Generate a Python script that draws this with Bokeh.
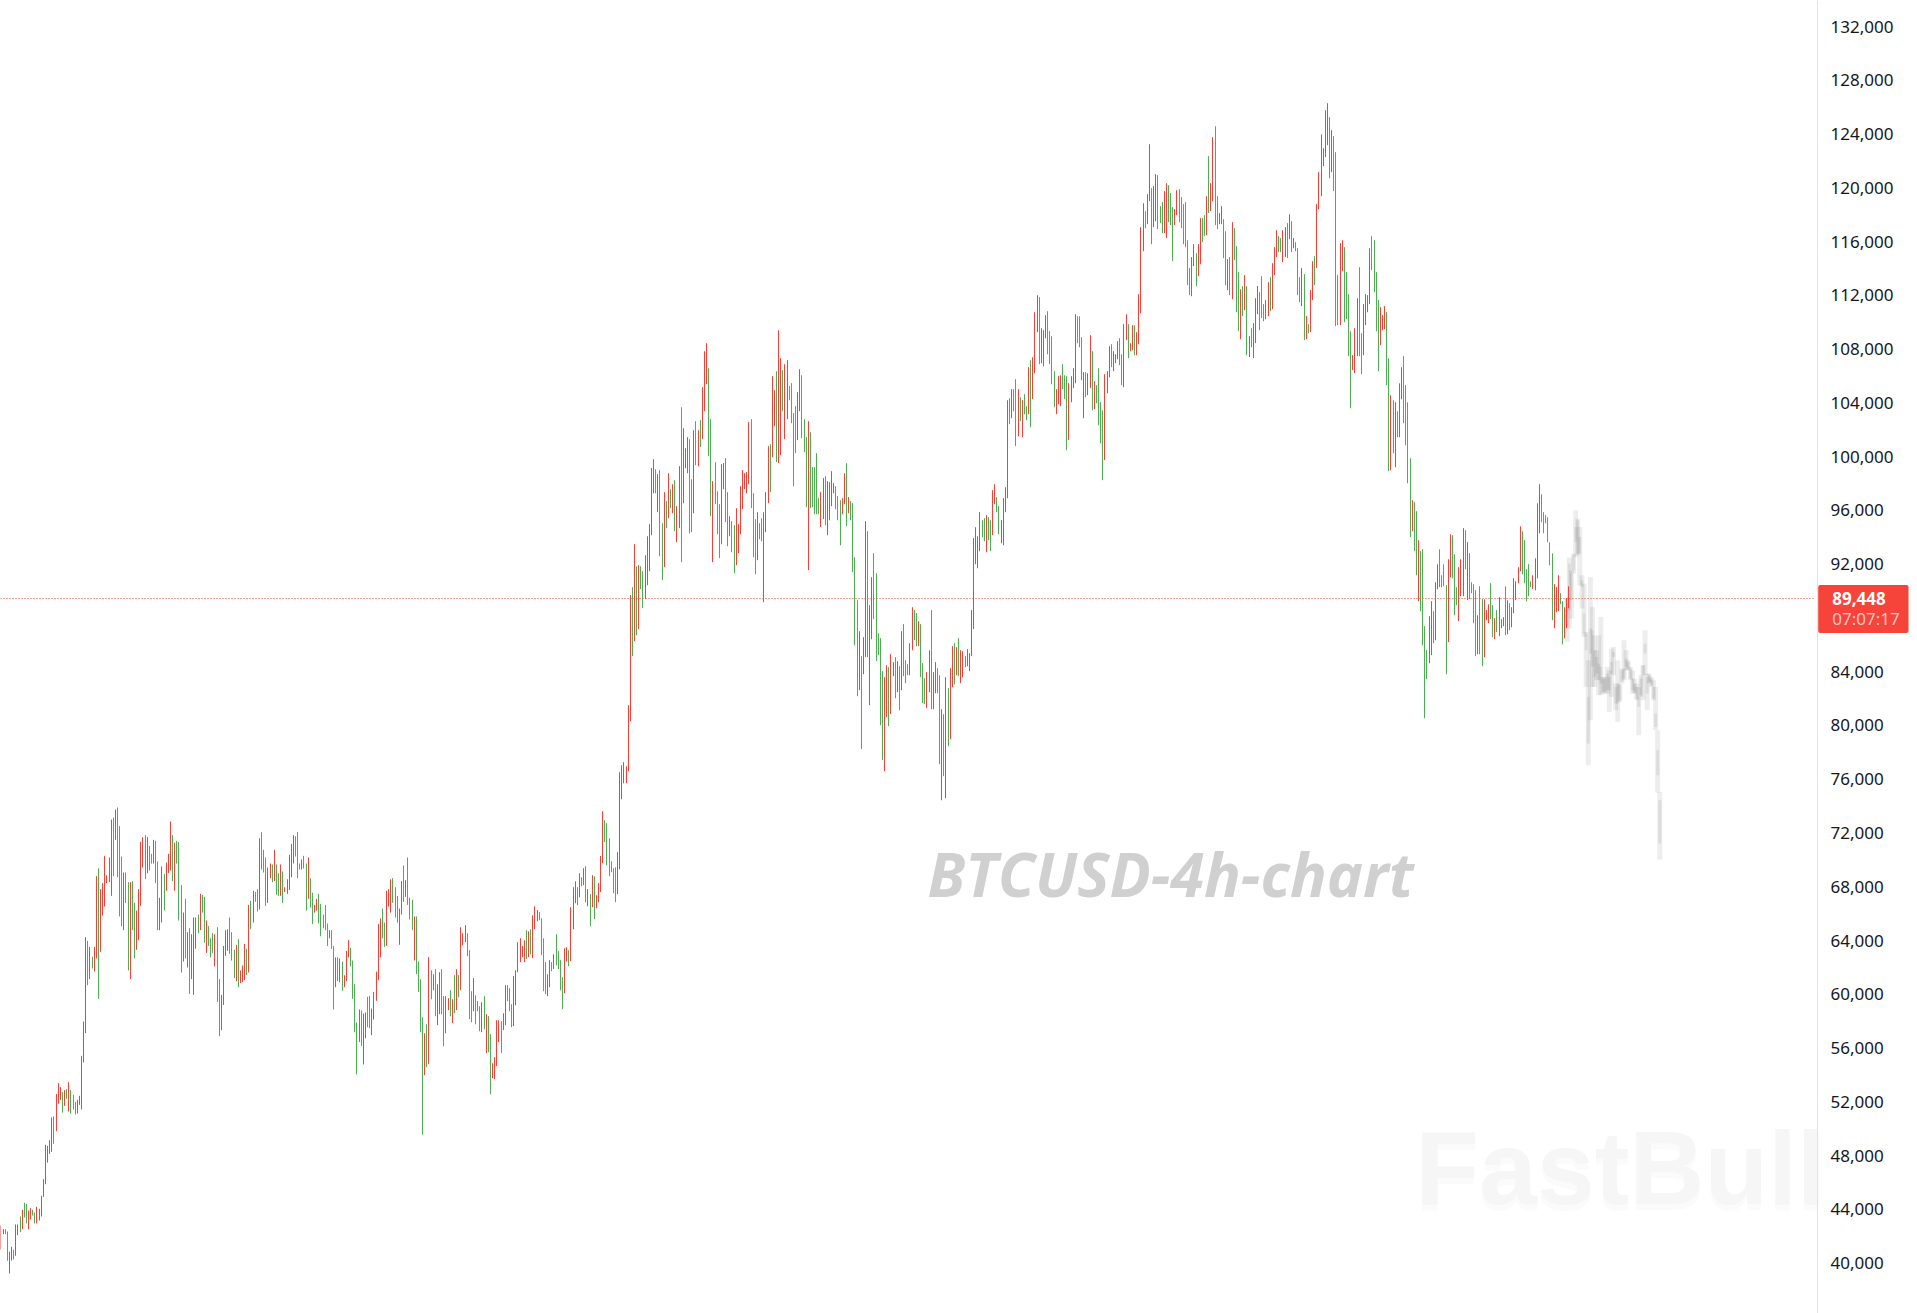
import numpy as np
from bokeh.embed import file_html
from bokeh.models import (BoxAnnotation, ColumnDataSource, FixedTicker, Label, LinearAxis,
                          NumeralTickFormatter, Range1d)
from bokeh.plotting import figure
from bokeh.resources import INLINE

# 4h bars, prices in thousands of USD
high_a = [42.80,42.52,42.52,42.35,40.84,41.21,40.99,42.87,42.87,43.47,43.96,44.48,44.41,43.91,44.09,43.96,43.76,44.19,44.04,45.00,
          46.24,48.80,48.72,49.15,50.83,50.91,52.59,53.39,53.09,52.72,52.87,52.94,53.46,52.87,52.52,52.00,52.15,52.44,55.42,57.97,
          64.25,63.98,63.53,62.79,63.53,68.79,69.36,67.82,68.27,70.30,68.86,70.18,73.00,73.15,73.75,73.90,72.51,70.25,69.06,69.06,
          68.34,68.34,68.42,66.80,66.23,67.82,71.34,71.69,71.84,71.69,71.04,70.45,71.49,71.42,69.88,67.18,69.51,68.94,69.80,70.45,
          72.85,71.84,71.27,71.42,71.34,68.12,66.08,67.10,64.62,64.92,64.47,65.71,65.71,65.93,67.47,67.40,67.25,65.49,65.07,64.17,
          64.55,64.47,64.99,61.13,59.96,63.60,64.77,64.84,65.71,64.62,63.31,63.68,64.10,61.77,62.14,63.75,63.38,66.65,66.95,67.70,
          67.62,67.82,71.61,72.06,70.75,70.18,69.43,69.73,69.66,70.75,69.66,69.01,69.66,69.13,67.97,68.56,70.37,71.19,71.84,71.76,
          72.06,69.73,70.03,70.30,69.73,70.18,68.64,67.55,66.65,67.10,67.47,66.73,65.93,66.65,65.27,64.77,64.77,63.60,62.74,62.74,
          62.66,62.44,61.42,63.23,64.03,63.46,62.51,60.75,57.90,58.87,58.79,58.57,58.64,59.81,59.89,58.94,60.18,61.69,65.22,65.64,
          66.38,65.34,67.70,67.82,68.56,68.64,67.97,67.32,66.38,68.42,69.58,68.49,70.18,67.18,67.03,65.79,65.79,62.44]
low_a = [41.01,42.15,42.15,40.17,39.23,40.19,40.27,40.54,42.08,42.30,42.52,43.39,42.95,42.52,43.24,43.54,42.95,42.95,43.17,43.47,
         44.93,45.87,47.48,48.13,48.28,48.87,49.82,51.85,52.15,51.20,51.70,52.22,51.28,51.13,51.43,51.06,51.13,51.77,51.43,54.93,
         57.11,60.68,61.13,61.92,61.69,62.66,59.66,63.16,65.86,66.53,68.27,68.34,67.32,68.79,71.49,68.71,65.79,65.07,64.77,66.80,
         61.77,61.13,64.77,62.66,63.31,64.03,66.58,69.43,68.56,69.01,69.21,69.73,69.73,68.27,64.77,64.77,65.34,66.23,67.70,69.01,
         69.21,68.42,67.70,69.73,65.49,61.62,62.44,62.66,61.99,60.03,61.13,59.96,63.38,64.55,64.77,66.08,63.83,63.08,63.60,62.74,
         63.08,62.07,59.44,56.88,57.33,59.21,62.86,63.23,63.01,62.51,61.20,60.98,60.53,60.83,60.90,61.05,61.42,61.62,64.84,65.34,
         66.88,66.16,66.31,69.28,69.06,66.58,66.80,68.64,68.34,68.42,67.40,67.32,67.32,66.80,67.60,67.47,67.77,68.71,69.73,70.25,
         68.64,69.28,69.28,69.36,66.23,67.10,66.46,65.22,66.08,66.23,65.27,64.32,64.92,64.77,63.60,64.17,63.38,58.87,60.53,60.98,
         60.90,60.26,60.53,60.98,62.74,62.07,59.66,57.18,54.03,56.46,56.16,54.78,56.73,57.55,57.48,56.96,58.12,59.51,61.05,62.74,
         64.17,63.53,63.60,66.53,66.08,66.80,65.71,65.34,63.68,65.93,66.88,67.25,66.65,65.56,64.77,62.51,61.50,60.18]
side_a = ("RRGGRRGRRG" "RGGRRGGRRR" "RRRRRGRRRG" "RGRGGGRRRR" "RGRGRRGRRR" "RRRGRGGGRG" "GRGGRRRRGR" "GGRGGRRGRR"
          "RGRGGGRGRG" "RRRGRGGRGG" "GRGGRRRRGG" "GRGRRRGRGR" "GGRGGGRRGR" "GGRGRRRRRG" "GGRGGRGGRR" "GGGGGRGGRG"
          "RGRRRGGGGR" "GRRGGRRRRR" "GGRRRGGGRR" "GRGGGRGG")

high_b = [61.12,58.30,57.10,57.77,62.76,61.79,61.49,61.87,60.75,61.64,61.87,59.86,59.86,59.71,60.30,59.63,61.42,61.87,61.42,64.99,
          64.54,65.14,64.54,63.28,60.23,61.20,59.93,59.49,59.11,59.41,59.86,58.52,58.37,57.03,54.87,55.32,58.07,58.07,58.00,58.59,
          60.68,60.68,60.45,59.26,61.35,61.79,63.88,64.17,63.58,64.02,64.77,64.69,64.84,65.88,66.55,66.26,66.11,65.66,64.17,62.39,
          61.49,62.54,62.39,62.98,64.47,63.21,62.54,61.27,63.43,63.50,63.28,66.48,67.97,68.41,67.97,69.01,68.71,69.38,69.53,67.82,
          67.45,68.86,68.79,67.37,68.27,70.29,73.62,72.95,72.73,71.61,69.90,69.38,69.45,70.57,76.52,77.04,77.27,76.97,81.51]
low_b = [57.18,49.54,53.98,54.58,54.80,59.63,60.30,58.37,57.70,58.52,58.52,56.14,57.10,58.82,58.37,57.85,58.59,58.82,59.78,60.30,
         63.65,63.88,62.83,58.15,57.92,58.74,57.77,58.74,57.25,57.18,57.40,55.62,55.69,52.57,53.76,53.68,54.65,56.44,55.62,57.33,
         57.70,59.49,58.74,57.55,57.63,59.19,61.64,62.39,62.76,62.39,62.61,62.76,62.98,62.68,64.84,65.44,65.51,62.91,60.23,60.01,
         59.86,60.53,61.72,61.87,62.16,61.87,60.30,58.89,60.08,62.46,62.09,62.46,64.84,66.78,66.63,67.22,68.04,68.12,66.85,66.55,
         65.07,66.48,65.59,66.40,66.85,67.60,69.75,71.32,69.60,68.79,69.08,67.52,66.85,67.45,69.31,74.51,75.70,75.70,76.60]
side_b = ("GG" "RGRGRGRRGG" "RRGRGRGRRR" "GGGRGGGRGR" "GGRRRRGRRG" "GGRRRRRRGR" "GRRRGGGGRR" "GRGGGGRRGR"
          "RRGRGRGRGR" "GRRRRGGGGG" "GRRRRRR")

high_c = [89.70,90.29,93.49,91.85,91.93,91.85,91.48,92.67,94.08,94.98,99.15,99.81,99.07,98.70,99.00,95.05,97.36,96.69,98.77,97.58,
          97.95,98.25,96.32,99.29,103.68,102.12,100.63,101.45,101.30,98.32,101.97,102.64,101.97,102.72,105.17,107.85,108.44,106.58,102.79,98.18,
          99.59,97.43,96.47,99.44,99.52,99.89,97.36,95.57,95.20,94.90,96.17,94.98,97.80,99.00,98.77,98.85,102.57,102.79,97.28,95.35,
          95.87,95.05,95.42,95.87,97.36,100.78,100.93,105.99,104.95,106.36,109.41,107.33,106.44,106.88,107.18,105.25,105.47,103.24,103.76,104.80,
          106.51,106.06,102.79,101.45,102.64,101.82,99.22,99.22,100.26,96.91,97.36,98.40,98.55,98.18,98.10,98.92,98.03,97.80,97.06,96.76,
          96.91,98.77,99.52,96.99,96.69,96.54,92.52,89.32,87.02,85.16,86.57,95.20,94.46,88.95,91.03,92.82,91.33,86.87,86.50,84.04,
          83.59,84.49,84.34,85.31,84.71,85.08,84.79,84.41,87.02,87.54,84.86,84.56,86.12,88.80,88.58,88.36,87.76,87.54,84.64,83.52,
          83.97,85.60,88.58,83.97,84.71,84.26,83.74,81.21,80.84,83.59,82.78,84.26,85.90,86.12,85.83,86.50,85.60,85.53,85.16,85.68,
          85.38,88.58,93.94,94.75,94.08,95.87,95.27,95.42,95.65,95.50,95.27,97.51,97.95,96.99,96.32,95.27,96.91,97.73,104.20,104.35,
          105.02,105.02,105.77,105.02,104.42]
low_c = [80.32,85.16,86.27,86.72,87.17,90.14,88.73,89.40,90.44,91.48,94.16,97.28,97.28,95.87,92.60,90.81,91.78,94.68,95.42,96.17,
         95.79,94.46,93.64,94.68,92.15,96.54,99.14,98.77,94.30,94.38,95.79,99.37,99.29,100.71,101.30,103.38,105.39,100.04,95.57,92.15,
         96.47,94.23,92.45,93.49,97.58,95.13,93.34,94.08,92.89,91.33,91.93,92.82,94.23,96.09,97.58,97.28,97.95,96.17,92.52,91.25,
         92.30,93.86,93.71,89.17,94.38,96.54,97.36,99.96,102.27,99.59,99.52,100.11,103.38,101.30,102.79,104.20,102.49,97.80,100.26,101.23,
         103.38,101.38,100.33,96.24,91.56,96.17,96.24,95.72,95.72,95.72,94.77,95.35,94.90,94.16,95.27,96.32,97.28,96.09,95.27,93.41,
         95.72,96.47,94.83,95.79,95.27,91.40,85.97,82.18,82.63,78.24,83.82,85.08,85.08,81.51,86.42,87.91,84.79,85.23,80.02,77.42,
         76.60,80.62,79.95,80.84,83.67,82.03,82.48,81.14,82.63,83.67,83.15,83.74,83.74,85.60,86.35,85.90,85.90,83.59,81.66,81.59,
         81.29,82.48,81.21,81.21,82.40,82.40,77.12,74.44,76.23,74.59,78.46,78.98,82.85,83.07,83.74,83.67,83.15,83.59,84.34,84.41,
         84.04,85.16,87.17,92.00,91.70,92.97,94.01,93.71,92.89,93.79,92.97,94.16,96.47,95.87,94.23,93.56,93.41,95.87,96.91,102.42,
         102.86,103.38,100.78,101.52,102.64]
side_c = ("RGR" "GRGGRRRRRG" "RGGRGRGRGR" "RGRRRGGRGR" "GRRRGGRGGG" "RRGGRGGRRR" "RRRRGGGRGG" "RRRGRRGRRG" "RRGGGGRRGG"
          "GRGGGGGRRG" "RRRRGGGRRG" "RGGGGRGRRG" "RRGGGGGRRG" "RRGRGRGGGR" "RGGRGGGRRG" "RRGGRGRGRR" "GRGRRGRRRR"
          "RRRGGRGGRR" "GGRRRRGRGG" "RG")

high_d = [104.20,104.65,103.76,106.66,107.18,107.40,110.75,112.01,111.87,109.56,109.41,110.53,110.82,109.34,108.96,106.36,105.02,105.99,106.06,106.88,
          106.06,105.99,105.47,105.99,106.58,110.60,110.45,110.45,108.89,106.29,106.29,106.21,109.04,107.85,105.62,105.32,106.58,104.05,103.46,106.14,
          106.36,108.22,108.37,107.85,107.62,108.59,108.81,107.62,109.86,110.60,109.86,108.44,109.78,109.78,109.26]
low_d = [101.45,103.16,102.71,103.16,102.19,104.28,106.21,109.26,106.88,106.95,106.73,108.81,107.62,106.88,105.39,103.68,103.16,103.90,103.76,105.02,
         104.28,100.48,101.23,104.05,105.10,105.47,108.44,108.14,105.69,102.86,104.43,104.57,105.10,103.46,103.53,103.98,102.34,101.00,98.25,99.74,
         104.72,105.91,106.66,106.36,106.95,107.25,106.81,105.32,105.17,108.67,107.33,107.85,107.92,107.55,107.55]
side_d = ("RGGRGRRR" "GRRRGGGGRR" "RGGGRRRRGG" "GRGRRGRGGG" "GRRRGRRRGG" "RRGRRGR")

high_e = [112.09,117.08,118.86,118.27,119.53,123.25,119.98,120.13,121.02,120.95,118.64,118.94,119.76,120.35,120.20,119.61,118.57,118.42,119.83,119.90,
          119.31,118.79,118.94,116.11,114.03,114.85,115.81,115.14,115.81,117.75,117.75,117.97,119.38,122.36,120.35,123.77,124.59,119.38,118.12,118.64,
          117.67,116.78,114.70,114.85,117.45,117.00,115.66,113.73,112.46,112.69,113.51,112.69,108.97,109.56,109.94,111.79,112.69,112.24,113.43,111.35,
          111.65,112.98,113.36,114.40,115.59,116.85,116.41,116.26,116.85,117.08,117.38,118.04,117.52,116.26,115.96,115.51,113.36,114.03,113.58,110.46,
          109.86,112.39,114.55,114.92,118.79,121.17,123.98,122.95,125.78,126.30,125.26,124.29,123.85,122.66,113.51,115.89,116.11,115.59,113.73,112.09,
          109.33,107.55,109.56,111.79,114.10,109.19,111.35,112.09,112.02,115.51,116.41,116.11,113.73,111.65,111.13,110.53,111.20,110.75]
low_e = [108.37,110.68,115.29,117.00,117.30,119.01,115.81,117.08,117.52,116.93,117.38,116.63,116.63,116.26,117.45,117.23,114.55,117.23,117.97,117.45,
         117.00,115.81,115.59,112.76,112.02,111.94,114.18,112.69,113.43,114.32,115.96,116.41,116.48,118.12,118.27,119.01,117.23,116.93,117.30,117.30,
         114.77,112.76,112.39,112.02,111.72,114.62,110.75,109.34,108.74,110.46,110.90,107.55,107.41,108.15,107.33,108.45,110.60,109.41,110.31,110.08,
         110.23,110.46,110.83,110.98,113.51,114.85,115.22,115.22,114.47,114.85,114.77,116.18,115.22,115.51,115.29,112.02,111.50,111.20,108.67,108.74,
         109.19,109.27,111.65,112.76,114.03,118.42,119.38,121.62,122.29,123.18,120.72,121.17,119.76,109.71,109.79,109.79,113.80,110.01,110.23,107.48,
         103.60,106.44,106.22,107.48,107.48,106.14,107.55,109.79,110.75,111.35,113.88,112.24,109.34,106.36,108.30,109.41,109.49,105.32]
side_e = ("RRR" "GRRGRRGGGR" "RGGGRRGGGG" "GGRRGRRGGR" "GRRGGRRGGR" "GRGGGRGRGR" "GRRRGGGRRG" "RRRGGRRGRG"
          "RGGGRGRGRR" "GRRRRRRGRG" "GGRRGGGGRR" "RGGRRRRGGG" "GRRRG")

high_f = [107.32,104.57,104.20,104.05,103.38,105.46,106.66,107.47,105.32,104.05,99.88,96.76,96.61,95.94,93.78,92.97,93.11,87.39,85.60,88.13,
          89.25,88.50,90.66,91.99,93.11,91.18,91.99,90.44,92.37,94.23,94.16,92.74,90.29,91.78,92.37,94.68,94.53,93.64,92.82,90.66,
          90.51,90.06,88.20,90.36,89.39,89.39,88.58,89.02,90.58,88.95,87.98,88.58,89.54,87.91,88.05,90.36,89.32,89.10]
low_f = [98.92,98.99,100.26,99.22,101.45,101.45,104.27,102.49,100.85,98.02,94.01,94.45,92.97,91.18,89.25,88.50,85.97,80.54,83.44,84.63,
         85.23,86.12,86.34,90.14,90.29,90.29,90.36,83.81,86.20,91.03,90.96,88.20,88.95,87.76,89.62,89.62,91.63,89.32,89.39,89.84,
         87.61,85.15,85.30,85.30,84.41,85.08,87.83,87.61,87.91,86.57,86.42,86.94,86.64,87.24,87.39,86.72,86.79,87.09]
side_f = ("GRGRG" "RRGGGGRGGR" "GGGGRRGRRG" "GGGRRGGGRR" "RGRGGGGRGG" "RRRGGRGRRR" "GRG")

high_g = [88.80,90.95,90.73,91.77,94.82,94.45,93.78,91.62,92.00,90.73,91.18,92.44,96.53,97.95,97.20,95.87,95.64,95.49,93.63,92.81,
          90.51,90.29,91.18,89.84,89.24,88.80,89.47,90.36]
low_g = [87.31,88.35,89.32,90.58,91.48,91.25,90.58,89.24,89.62,90.29,90.14,90.06,90.95,94.30,95.12,94.30,95.05,93.63,91.92,87.83,
         87.23,88.43,88.50,89.02,86.04,86.49,87.23,88.72]
side_g = ("RRRRRGG" "GGGRRRRGGG" "GGGRRRGGRRR")

# faded projection after the last bar
ghost_high = [89.44,92.49,91.55,92.79,96.01,95.39,94.77,91.18,90.56,86.96,84.85,91.05,88.82,86.71,85.60,86.71,88.08,83.61,83.61,84.36,84.11,85.72,
              85.85,83.12,84.85,83.12,84.23,86.34,85.60,84.85,84.36,84.11,83.49,83.12,82.87,83.74,84.48,87.09,83.86,83.86,83.61,83.37,82.87,79.65,75.06]
ghost_low = [86.22,87.21,87.95,91.30,92.54,92.67,90.43,88.70,86.59,82.87,77.04,80.39,82.87,82.87,83.37,82.25,82.25,82.37,82.37,82.37,81.01,82.13,
             83.74,81.13,80.27,81.75,83.12,83.37,84.11,84.11,83.37,82.37,82.37,81.88,79.27,82.13,81.88,83.74,81.13,83.12,82.87,81.88,79.65,75.00,70.02]
ghost_top = [89.07,92.05,91.30,92.67,94.77,95.27,94.03,90.80,88.33,86.84,82.13,87.21,87.09,85.60,85.10,84.60,84.36,83.49,83.49,83.86,83.61,84.73,
             85.47,82.87,83.12,83.00,84.11,84.23,84.98,84.73,84.23,83.49,83.12,82.87,82.13,83.49,84.48,86.09,83.61,83.74,83.49,82.87,80.89,78.16,74.44]
ghost_bot = [87.33,88.57,89.32,91.55,93.66,92.79,92.79,90.31,86.84,85.60,78.65,85.35,84.36,83.61,83.86,83.37,83.12,82.50,82.50,82.62,82.62,83.86,
             85.10,81.63,81.63,81.88,83.24,83.49,84.36,84.23,83.49,82.62,82.50,82.00,81.38,82.25,83.74,85.35,82.37,83.24,82.99,82.00,79.89,76.30,71.21]

ticks = [40000, 44000, 48000, 52000, 56000, 60000, 64000, 68000, 72000, 76000, 80000, 84000,
         92000, 96000, 100000, 104000, 108000, 112000, 116000, 120000, 124000, 128000, 132000]
last_price = 89448
countdown = "07:07:17"

high = np.array(high_a + high_b + high_c + high_d + high_e + high_f + high_g) * 1000
low = np.array(low_a + low_b + low_c + low_d + low_e + low_f + low_g) * 1000
side = side_a + side_b + side_c + side_d + side_e + side_f + side_g

RED = "#fb3d33"
GREEN = "#4caf50"
n = len(high)
step = 1568.0 / (n - 1)
# bars snap to whole pixels, as on the original chart (bokeh adds the half pixel itself)
bar_x = np.floor(np.arange(n) * step + 0.96)
src = ColumnDataSource(dict(x=bar_x, high=high, low=low, color=[RED if c == "R" else GREEN for c in side]))

ghost_x = 1566.7 + np.arange(len(ghost_high)) * 2.105
ghost = ColumnDataSource(dict(x=ghost_x, high=np.array(ghost_high) * 1000, low=np.array(ghost_low) * 1000,
                              top=np.array(ghost_top) * 1000, bot=np.array(ghost_bot) * 1000))

px_per_usd = 0.01344
y_top = last_price + 598 / px_per_usd
y_bot = last_price - (1313 - 598) / px_per_usd

# the frame fills the page, the price axis sits inside it so the tag can cover it
p = figure(width=1917, height=1313, frame_width=1917, frame_height=1313,
           x_range=Range1d(0, 1917), y_range=Range1d(y_bot, y_top),
           x_axis_location=None, y_axis_location=None,
           output_backend="svg", toolbar_location=None,
           min_border_left=0, min_border_top=0, min_border_bottom=0, min_border_right=0)
p.outline_line_color = None
p.grid.visible = False
p.background_fill_color = "white"

ax = LinearAxis(fixed_location=1817)
ax.ticker = FixedTicker(ticks=ticks)
ax.formatter = NumeralTickFormatter(format="0,0")
ax.axis_line_color = "#e0e3eb"
ax.major_tick_line_color = None
ax.minor_tick_line_color = None
ax.major_tick_out = 0
ax.major_label_standoff = 13
ax.major_label_text_font = "Noto Sans"
ax.major_label_text_font_size = "17px"
ax.major_label_text_color = "#131722"
p.add_layout(ax, "right")

# watermarks under the bars
p.add_layout(Label(x=1415, y=46600, text="FastBull", text_font="Liberation Sans", text_font_style="bold",
                   text_font_size="104px", text_color="#fbfbfb", text_baseline="alphabetic", level="underlay"))
p.add_layout(Label(x=1415, y=47050, text="FastBull", text_font="Liberation Sans", text_font_style="bold",
                   text_font_size="104px", text_color="#f6f6f6", text_baseline="alphabetic", level="underlay"))
p.add_layout(Label(x=927, y=68973, text="BTCUSD-4h-chart", text_font="Open Sans", text_font_style="bold italic",
                   text_font_size="61px", text_color="#d0d0d0", text_baseline="alphabetic", level="underlay"))

p.segment("x", "low", "x", "high", source=ghost, line_color="black", line_alpha=0.07, line_width=5)
p.segment("x", "bot", "x", "top", source=ghost, line_color="black", line_alpha=0.07, line_width=3)
p.segment("x", "low", "x", "high", source=src, line_color="color", line_width=1)

p.segment([0], [last_price], [1815], [last_price], line_color="#f44336", line_width=1, line_dash="1 2")

# price tag on the axis
p.add_layout(BoxAnnotation(left=1817.7, right=1908, top=90452, bottom=86881, fill_color="#f6443a",
                           fill_alpha=1, line_color=None, border_radius=2, level="overlay"))
p.add_layout(Label(x=1831.7, y=last_price, text=f"{last_price:,}", text_font="Noto Sans", text_font_size="17px",
                   text_font_style="bold", text_color="white", text_baseline="middle", level="overlay"))
p.add_layout(Label(x=1831.7, y=87923, text=countdown, text_font="Noto Sans", text_font_size="17px",
                   text_color="white", text_alpha=0.7, text_baseline="middle", level="overlay"))

open("out.html", "w").write(file_html(p, INLINE))
